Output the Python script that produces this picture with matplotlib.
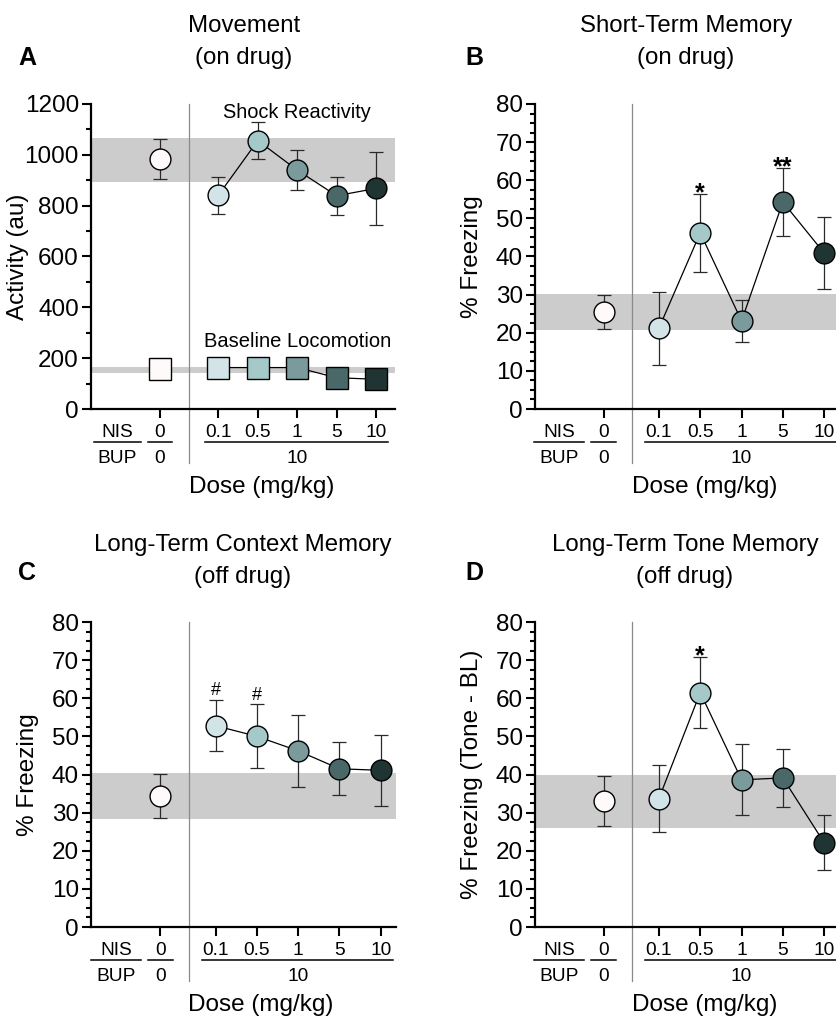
import numpy as np
import matplotlib.pyplot as plt
from matplotlib.transforms import blended_transform_factory

plt.rcParams["font.family"] = ["Liberation Sans", "DejaVu Sans"]

# ----------------------------
# Data
# ----------------------------
dose_labels = ["0.1", "0.5", "1", "5", "10"]
group_colors = ["#fefafa", "#d3e4e8", "#a5c8c8", "#7a9a9c", "#4a6868", "#203533"]

# A: Movement (vehicle first, then doses)
shock_mean = [984, 841, 1056, 940, 839, 868]
shock_sem = [80, 73, 73, 80, 74, 143]
shock_band = [894, 1066]
loco_mean = [156, 163, 163, 163, 123, 117]
loco_sem = [8, 8, 8, 8, 8, 8]
loco_band = [143, 166]

# B: Short-term memory
stm_mean = [25.4, 21.2, 46.2, 23.1, 54.3, 40.9]
stm_sem = [4.5, 9.6, 10.3, 5.4, 9.0, 9.5]
stm_band = [20.6, 30.2]
stm_sig = ["", "", "*", "", "**", ""]

# C: Long-term context memory
ltc_mean = [34.4, 52.8, 50.0, 46.2, 41.5, 41.1]
ltc_sem = [5.8, 6.7, 8.4, 9.5, 7.0, 9.3]
ltc_band = [28.4, 40.4]
ltc_sig = ["", "#", "#", "", "", ""]

# D: Long-term tone memory
ltt_mean = [33.0, 33.7, 61.5, 38.6, 39.1, 22.1]
ltt_sem = [6.6, 8.8, 9.4, 9.3, 7.7, 7.2]
ltt_band = [26.0, 39.9]
ltt_sig = ["", "", "*", "", "", ""]

# ----------------------------
# Layout helpers
# ----------------------------
W, H = 836, 1021
FS = 17.5
FS_TICK = 13.8

fig = plt.figure(figsize=(W / 100, H / 100), dpi=100)


def px(x, y):
    return x / W, 1 - y / H


def make_axes(left, top, right, bottom):
    return fig.add_axes([left / W, 1 - bottom / H, (right - left) / W, (bottom - top) / H])


def setup(ax, gap, xlim, sep, ylim, major, minor, ylabel, ylabel_x):
    xpos = np.concatenate([[1.0], 1 + gap + np.arange(len(dose_labels))])
    ax.set_xlim(*xlim)
    ax.set_ylim(*ylim)
    for s in ["top", "right"]:
        ax.spines[s].set_visible(False)
    for s in ["left", "bottom"]:
        ax.spines[s].set_linewidth(1.6)
    ax.set_xticks(xpos)
    ax.set_xticklabels([""] * len(xpos))
    ax.set_yticks(np.arange(ylim[0], ylim[1] + 1e-9, major))
    ax.set_yticks(np.arange(ylim[0], ylim[1] + 1e-9, minor), minor=True)
    ax.tick_params(axis="y", which="major", length=6.3, width=1.5, labelsize=FS, pad=2.4)
    ax.tick_params(axis="y", which="minor", length=3.6, width=1.5)
    ax.tick_params(axis="x", which="major", length=6.5, width=1.5)

    tr = blended_transform_factory(ax.transData, ax.transAxes)
    # separator between controls and dosed groups
    ax.plot([sep, sep], [-0.177, 1.0], color="#8a8a8a", lw=0.9, transform=tr, clip_on=False, zorder=1)

    # two-row dose labels
    r1, r2, ul = -0.092, -0.177, -0.109
    ax.text(-0.08, r1, "NIS", transform=tr, ha="center", va="baseline", fontsize=FS_TICK)
    ax.text(-0.08, r2, "BUP", transform=tr, ha="center", va="baseline", fontsize=FS_TICK)
    ax.plot([-0.68, 0.52], [ul, ul], color="black", lw=1.1, transform=tr, clip_on=False)
    ax.text(xpos[0], r1, "0", transform=tr, ha="center", va="baseline", fontsize=FS_TICK)
    ax.text(xpos[0], r2, "0", transform=tr, ha="center", va="baseline", fontsize=FS_TICK)
    ax.plot([xpos[0] - 0.3, xpos[0] + 0.3], [ul, ul], color="black", lw=1.1, transform=tr, clip_on=False)
    for x, lab in zip(xpos[1:], dose_labels):
        ax.text(x, r1, lab, transform=tr, ha="center", va="baseline", fontsize=FS_TICK)
    ax.text(xpos[1:].mean(), r2, "10", transform=tr, ha="center", va="baseline", fontsize=FS_TICK)
    ax.plot([xpos[1] - 0.33, xpos[-1] + 0.3], [ul, ul], color="black", lw=1.1, transform=tr, clip_on=False)

    ax.text(xpos[1:].mean() - 0.9, -0.256, "Dose (mg/kg)", transform=tr,
            ha="center", va="center", fontsize=FS)
    ax.text(ylabel_x, 0.5, ylabel, transform=ax.transAxes, rotation=90,
            ha="center", va="center", fontsize=FS)
    return xpos


def draw_series(ax, xpos, mean, sem, marker, ms):
    mean = np.asarray(mean, float)
    sem = np.asarray(sem, float)
    ax.errorbar(xpos, mean, yerr=sem, fmt="none", ecolor="#2a2a2a", elinewidth=0.9,
                capsize=5.3, capthick=0.9, zorder=3)
    ax.plot(xpos[1:], mean[1:], color="black", lw=0.9, zorder=4)
    for x, y, c in zip(xpos, mean, group_colors):
        ax.plot(x, y, marker=marker, ms=ms, mfc=c, mec="black", mew=1.0, zorder=5, ls="none")


def draw_sig(ax, xpos, mean, sem, sig):
    for x, m, s, t in zip(xpos, mean, sem, sig):
        if not t:
            continue
        if t.startswith("*"):
            ax.annotate(t, xy=(x, m + s), xytext=(0, -4.5), textcoords="offset points",
                        ha="center", va="baseline", fontsize=18, fontweight="bold")
        else:
            ax.annotate(t, xy=(x, m + s), xytext=(0, 3.4), textcoords="offset points",
                        ha="center", va="baseline", fontsize=13)


# ----------------------------
# Panel A
# ----------------------------
axA = make_axes(91, 104, 395, 409)
xA = setup(axA, 1.48, (-0.75, 6.96), 1.74, (0, 1200), 200, 100, "Activity (au)", -0.24)
axA.axhspan(*shock_band, color="#cccccc", lw=0, zorder=0)
axA.axhspan(*loco_band, color="#cccccc", lw=0, zorder=0)
draw_series(axA, xA, shock_mean, shock_sem, "o", 15)
draw_series(axA, xA, loco_mean, loco_sem, "s", 15.8)
axA.text(xA[1:].mean(), 1145, "Shock Reactivity", ha="center", va="baseline", fontsize=14.4)
axA.text(xA[1:].mean(), 245, "Baseline Locomotion", ha="center", va="baseline", fontsize=14.5)

# ----------------------------
# Panel B
# ----------------------------
axB = make_axes(535, 104, 844, 409)
xB = setup(axB, 1.34, (-0.66, 6.82), 1.69, (0, 80), 10, 2.5, "% Freezing", -0.204)
axB.axhspan(*stm_band, color="#cccccc", lw=0, zorder=0)
draw_series(axB, xB, stm_mean, stm_sem, "o", 15)
draw_sig(axB, xB, stm_mean, stm_sem, stm_sig)

# ----------------------------
# Panel C
# ----------------------------
axC = make_axes(91, 622, 396, 927)
xC = setup(axC, 1.34, (-0.68, 6.71), 1.69, (0, 80), 10, 2.5, "% Freezing", -0.207)
axC.axhspan(*ltc_band, color="#cccccc", lw=0, zorder=0)
draw_series(axC, xC, ltc_mean, ltc_sem, "o", 15)
draw_sig(axC, xC, ltc_mean, ltc_sem, ltc_sig)

# ----------------------------
# Panel D
# ----------------------------
axD = make_axes(535, 622, 844, 927)
xD = setup(axD, 1.34, (-0.66, 6.82), 1.69, (0, 80), 10, 2.5, "% Freezing (Tone - BL)", -0.204)
axD.axhspan(*ltt_band, color="#cccccc", lw=0, zorder=0)
draw_series(axD, xD, ltt_mean, ltt_sem, "o", 15)
draw_sig(axD, xD, ltt_mean, ltt_sem, ltt_sig)

# ----------------------------
# Titles and panel letters
# ----------------------------
titles = [("Movement", "(on drug)", 244, 31.7, "A", 18, 65),
          ("Short-Term Memory", "(on drug)", 686, 31.7, "B", 465, 65),
          ("Long-Term Context Memory", "(off drug)", 243, 550.5, "C", 18, 580),
          ("Long-Term Tone Memory", "(off drug)", 685, 550.5, "D", 465, 580)]
for l1, l2, cx, by, letter, lx, ly in titles:
    fig.text(*px(cx, by), l1, ha="center", va="baseline", fontsize=17.3)
    fig.text(*px(cx, by + 32), l2, ha="center", va="baseline", fontsize=17.3)
    fig.text(*px(lx, ly), letter, ha="left", va="baseline", fontsize=18, fontweight="bold")

fig.savefig("out.png", dpi=100)
plt.close(fig)
